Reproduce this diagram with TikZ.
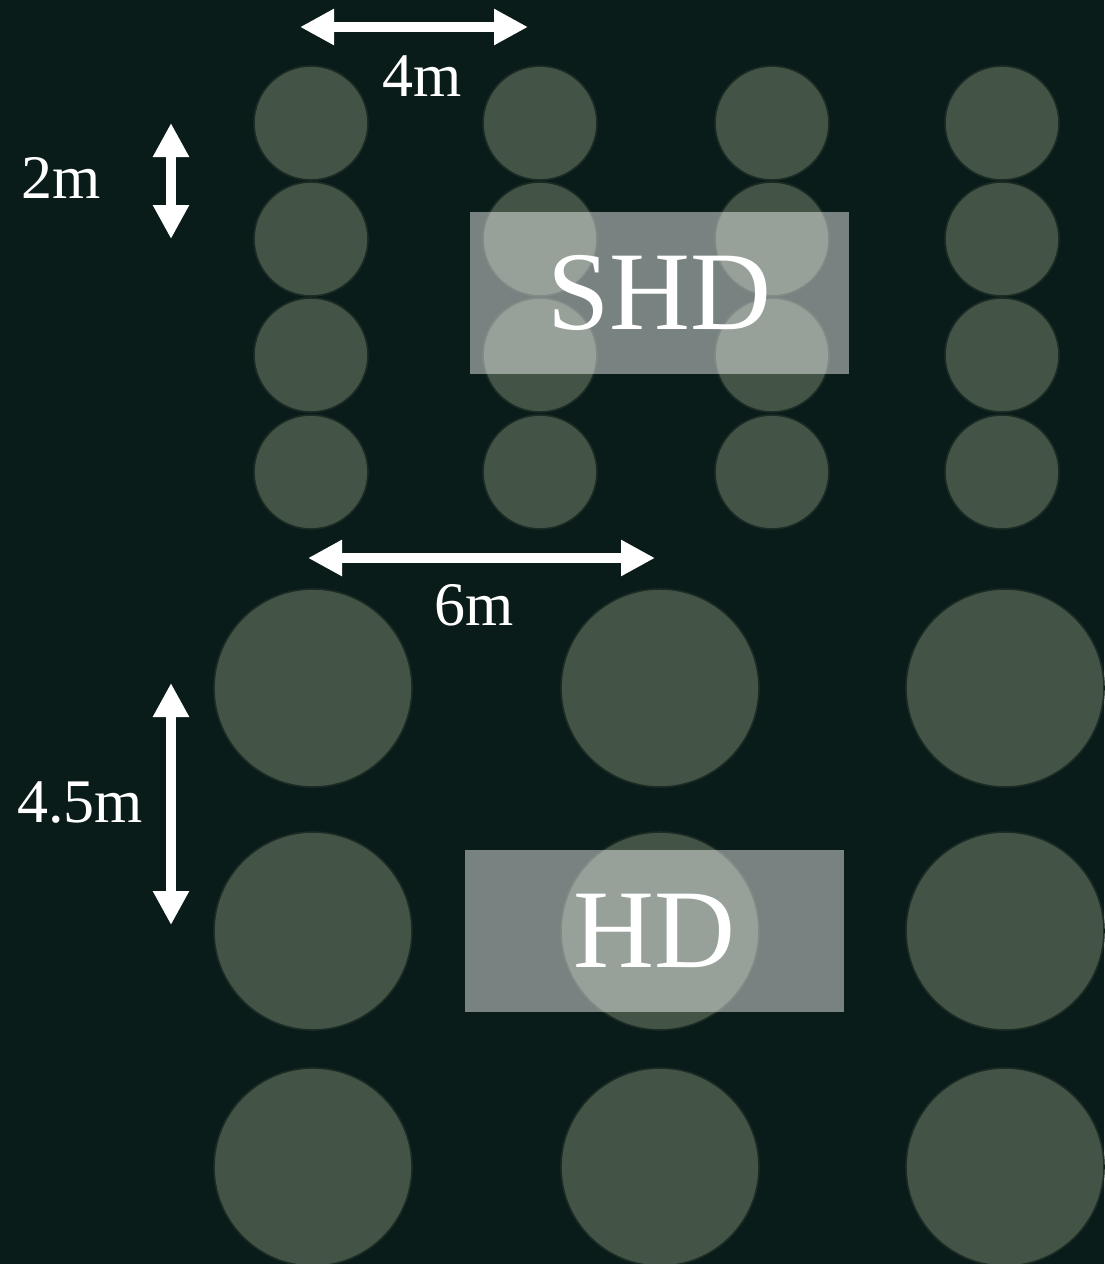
\documentclass[tikz,border=0pt]{standalone}
\usepackage{fontspec}
\setmainfont{Liberation Serif}
\usepackage{tikz}
\usetikzlibrary{arrows.meta}
\definecolor{bgdark}{HTML}{0A1C1A}
\definecolor{treefill}{HTML}{435447}
\definecolor{treeline}{HTML}{1C2B24}

\tikzset{
  tree/.style={circle,fill=treefill,draw=treeline,line width=0.8pt,inner sep=0pt},
  small tree/.style={tree,minimum size=57pt},
  big tree/.style={tree,minimum size=99pt},
  zone/.style={fill=white,fill opacity=0.45,text opacity=1,text=white,
    minimum width=189.5pt,minimum height=81pt,inner sep=0pt,
    font=\fontsize{56}{64}\selectfont},
  dim/.style={white,line width=5pt,{Triangle[width=17pt,length=17pt]}-{Triangle[width=17pt,length=17pt]}},
  dimlabel/.style={text=white,anchor=base,inner sep=0pt,font=\fontsize{31}{36}\selectfont}
}

\begin{document}
\begin{tikzpicture}[x=0.5pt,y=-0.5pt]
\fill[bgdark] (0,0) rectangle (1104,1264);
\useasboundingbox (0,0) rectangle (1104,1264);

% SHD spacing
\foreach \c/\x in {1/311,2/540,3/772,4/1002}
  \foreach \r/\y in {1/123,2/239,3/355,4/472}
    \node[small tree] (s-\r-\c) at (\x,\y) {};

% HD spacing
\foreach \c/\x in {1/313,2/660,3/1005}
  \foreach \r/\y in {1/688,2/931,3/1167}
    \node[big tree] (h-\r-\c) at (\x,\y) {};

\node[zone] (shd) at (659.5,293) {SHD};
\node[zone] (hd) at (654.5,930.5) {HD};

\coordinate (w4a) at (300,27);
\coordinate (w4b) at (528,27);
\coordinate (h2a) at (171,123);
\coordinate (h2b) at (171,239);
\coordinate (w6a) at (308,558);
\coordinate (w6b) at (655,558);
\coordinate (h45a) at (171,683);
\coordinate (h45b) at (171,925);

\draw[dim] (w4a) -- (w4b);
\draw[dim] (h2a) -- (h2b);
\draw[dim] (w6a) -- (w6b);
\draw[dim] (h45a) -- (h45b);

\node[dimlabel] (l4) at (422,96) {4m};
\node[dimlabel] (l2) at (61,198) {2m};
\node[dimlabel] (l6) at (474,625) {6m};
\node[dimlabel] (l45) at (80,822) {4.5m};
\end{tikzpicture}
\end{document}
